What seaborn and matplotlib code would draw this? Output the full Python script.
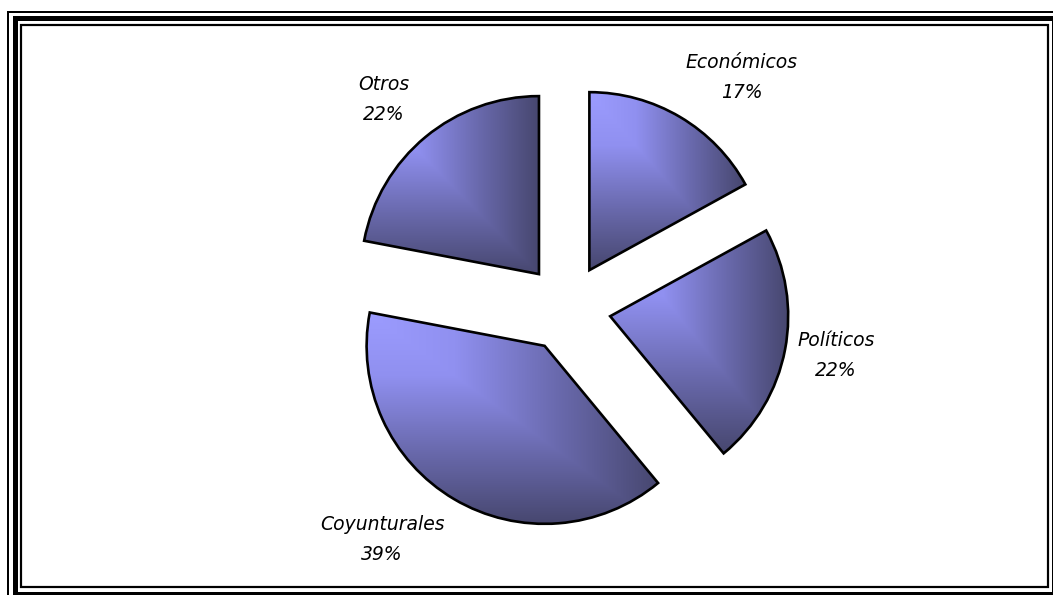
import numpy as np
import matplotlib
matplotlib.use("Agg")
import matplotlib.pyplot as plt
from matplotlib.colors import LinearSegmentedColormap
from matplotlib.patches import Rectangle
import seaborn as sns

# Distribution of causes (percent of total)
categories = ["Económicos", "Políticos", "Coyunturales", "Otros"]
shares = [17, 22, 39, 22]

W, H = 1053, 595

sns.set_theme(style="white")
plt.rcParams["font.family"] = ["DejaVu Sans"]

fig = plt.figure(figsize=(W / 100, H / 100), dpi=100)
ax = fig.add_axes([0, 0, 1, 1])


def fy(y):
    """Convert a top-down pixel row into the axes' bottom-up y value."""
    return H - y


# Exploded pie, clockwise from 12 o'clock (explode is in data units here)
radius = 178
wedges, _ = ax.pie(
    shares,
    explode=[0.247 * radius] * len(shares),
    startangle=90,
    counterclock=False,
    center=(567, fy(308)),
    radius=radius,
    wedgeprops=dict(facecolor="none", edgecolor="black", linewidth=1.9, zorder=3),
)

# Corner-to-corner shading inside every wedge
shade = LinearSegmentedColormap.from_list(
    "shade",
    [(0.0, "#9c9cff"), (0.3, "#9090f0"), (0.65, "#6a6aae"), (1.0, "#47476f")],
)
for w in wedges:
    ext = w.get_path().get_extents()
    x0, y0, x1, y1 = ext.x0, ext.y0, ext.x1, ext.y1
    xs = np.linspace(x0, x1, 400)
    ys = np.linspace(y0, y1, 400)
    X, Y = np.meshgrid(xs, ys)
    u = (X - x0) / (x1 - x0)
    v = (y1 - Y) / (y1 - y0)
    t = np.maximum(u, v)
    im = ax.imshow(t, extent=(x0, x1, y0, y1), origin="lower", cmap=shade,
                   vmin=0, vmax=1, aspect="auto", interpolation="bilinear", zorder=2)
    im.set_clip_path(w)

# Category labels with their percentages
label_pos = [(742, 63, 93), (836, 341, 370), (382, 525, 555), (384, 84, 114)]
for name, val, (lx, ly1, ly2) in zip(categories, shares, label_pos):
    ax.text(lx, fy(ly1), name, ha="center", va="center", fontsize=13.5,
            style="italic", color="black", zorder=4)
    ax.text(lx, fy(ly2), f"{val}%", ha="center", va="center", fontsize=13.5,
            style="italic", color="black", zorder=4)

ax.set_xlim(0, W)
ax.set_ylim(0, H)
ax.set_aspect("auto")
ax.axis("off")

# Triple frame around the chart area
px = 0.72
for left, top, right, bottom, lw in [
    (8, 11.8, 1062, 602, 2.0),
    (14.5, 18, 1053.5, 594, 5.0),
    (21, 24.5, 1048, 587, 2.2),
]:
    ax.add_patch(Rectangle((left, fy(bottom)), right - left, bottom - top,
                           fill=False, edgecolor="black", linewidth=lw * px,
                           zorder=5, clip_on=False))

fig.savefig("out.png", dpi=100)
